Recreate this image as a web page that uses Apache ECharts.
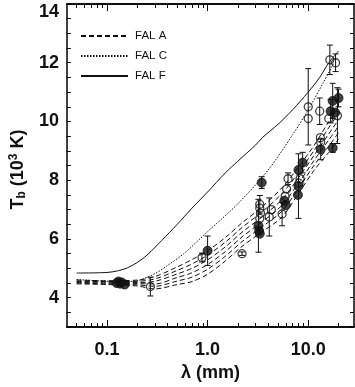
<!DOCTYPE html>
<html><head><meta charset="utf-8">
<script src="https://cdn.jsdelivr.net/npm/echarts@6/dist/echarts.min.js"></script>
<style>html,body{margin:0;padding:0;background:#fff}#c{width:355px;height:387px}</style>
</head><body><div id="c"></div>
<script>
// ---- tick labels ----
const xTickLabels = [0.1, 1, 10];
const xMinorTicks = [0.05,0.06,0.07,0.08,0.09,0.2,0.3,0.4,0.5,0.6,0.7,0.8,0.9,2,3,4,5,6,7,8,9,20];
const yTickLabels = [4, 6, 8, 10, 12, 14];
const yTicks = [3,3.5,4,4.5,5,5.5,6,6.5,7,7.5,8,8.5,9,9.5,10,10.5,11,11.5,12,12.5,13,13.5,14];

// ---- model curves (wavelength mm, Tb in 10^3 K) ----
const falF_lam = [0.05,0.1,0.13,0.16,0.2,0.25,0.35,0.5,0.7,1.0,1.5,2.0,3.0,3.5,5.0,7.0,10,13,16,20];
const falF     = [4.84,4.86,4.92,5.02,5.2,5.45,5.95,6.5,7.05,7.6,8.25,8.65,9.2,9.45,9.9,10.4,11.0,11.5,12.0,12.4];

const falC_lam = [0.05,0.1,0.15,0.2,0.3,0.4,0.58,1.0,2.0,4.0,7.0,10,14,18];
const falC     = [4.62,4.56,4.55,4.58,4.82,5.1,5.5,6.25,7.2,8.35,9.55,10.4,11.3,12.0];

const falA_lam = [0.05,0.1,0.2,0.3,0.5,0.7,1.0,1.5,2.2,3.5,5.5,8,11.5,16,20];
const falA1 = [4.47,4.45,4.40,4.30,4.45,4.55,4.80,5.25,5.75,6.25,6.75,7.55,8.35,8.95,9.40];
const falA2 = [4.50,4.47,4.44,4.39,4.57,4.70,4.97,5.41,5.91,6.42,6.95,7.72,8.52,9.16,9.62];
const falA3 = [4.52,4.50,4.48,4.47,4.69,4.85,5.13,5.57,6.07,6.59,7.15,7.90,8.69,9.37,9.84];
const falA4 = [4.55,4.53,4.52,4.56,4.81,5.00,5.29,5.73,6.23,6.76,7.35,8.08,8.86,9.58,10.06];
const falA5 = [4.57,4.55,4.56,4.64,4.93,5.15,5.45,5.89,6.39,6.93,7.55,8.26,9.03,9.79,10.28];
const falA6 = [4.60,4.58,4.60,4.72,5.05,5.30,5.60,6.05,6.55,7.10,7.75,8.45,9.20,10.00,10.50];

// ---- observations: open circles ----
const openLam = [0.27,0.88,2.2,3.3,3.3,3.35,3.3,4.1,4.3,5.5,5.9,6.1,6.3,8.3,8.1,10.0,10.0,13.0,13.2,13.3,16.4,18.7,19.5,16.0];
const openTb  = [4.38,5.37,5.5,7.18,7.05,6.88,6.7,6.75,7.0,6.85,7.45,7.7,8.05,8.05,7.9,10.5,10.1,10.35,9.45,9.3,12.1,12.0,10.2,10.1];
const openErr = [0.32,0.15,0.06,0.3,0,0,0,0.65,0,0.4,0,0,0.2,0,0,1.3,0,0.45,0,0,0.5,0.3,0.95,0];

// ---- observations: filled circles ----
const fillLam = [0.125,0.13,0.135,0.14,0.15,1.0,3.45,3.2,3.25,3.3,5.8,6.0,8.0,8.0,7.9,8.8,13.3,17.5,16.7,17.5,20.0,18.5];
const fillTb  = [4.5,4.55,4.48,4.52,4.45,5.6,7.92,6.45,6.28,6.18,7.3,7.15,7.8,8.35,7.5,8.6,9.05,9.1,10.35,10.7,10.8,10.3];
const fillErr = [0,0,0,0,0,0.5,0.2,0.9,0,0,0,0,1.1,0,0,0.35,0.35,0.15,0.4,0.6,0.3,0];

const FONT = "'Liberation Sans', Arial, sans-serif";
const INK = '#111';

function zip(a, b) { return a.map((v, i) => [v, b[i]]); }
function errData(lam, tb, err) {
  const out = [];
  lam.forEach((l, i) => { if (err[i] > 0) out.push([l, tb[i] - err[i], tb[i] + err[i]]); });
  return out;
}
function errSeries(data) {
  return {
    type: 'custom', silent: true, z: 3,
    data: data,
    encode: { x: 0, y: [1, 2] },
    renderItem: function (params, api) {
      const lam = api.value(0);
      const lo = api.coord([lam, api.value(1)]);
      const hi = api.coord([lam, api.value(2)]);
      const w = 3;
      const st = { stroke: INK, lineWidth: 1 };
      return { type: 'group', children: [
        { type: 'line', shape: { x1: lo[0], y1: lo[1], x2: hi[0], y2: hi[1] }, style: st },
        { type: 'line', shape: { x1: lo[0] - w, y1: lo[1], x2: lo[0] + w, y2: lo[1] }, style: st },
        { type: 'line', shape: { x1: hi[0] - w, y1: hi[1], x2: hi[0] + w, y2: hi[1] }, style: st }
      ]};
    }
  };
}
function lineSeries(name, lam, vals, type, width) {
  return {
    type: 'line', name: name, data: zip(lam, vals), symbol: 'none', smooth: 0.3,
    lineStyle: { color: INK, width: width || 1, type: type }, itemStyle: { color: INK },
    z: 2, silent: true
  };
}

const axisLineStyle = { color: '#000', width: 1.5 };
const xBase = { type: 'log', logBase: 10, min: 0.04, max: 28.5, gridIndex: 0, splitLine: { show: false }, axisLine: { onZero: false, lineStyle: axisLineStyle } };

const chart = echarts.init(document.getElementById('c'), null, { renderer: 'canvas' });
chart.setOption({
  animation: false,
  backgroundColor: '#fff',
  grid: { left: 61, right: 1, top: 4, bottom: 54 },
  legend: {
    data: ['FAL A', 'FAL C', 'FAL F'],
    orient: 'vertical', left: 75, top: 25,
    itemWidth: 47, itemHeight: 10, itemGap: 8,
    itemStyle: { opacity: 0 },
    textStyle: { fontFamily: FONT, fontSize: 11.5, color: INK, padding: [0, 0, 0, 2] },
    selectedMode: false
  },
  xAxis: [
    Object.assign({}, xBase, {
      position: 'bottom',
      axisTick: { inside: true, length: 7, customValues: xTickLabels, lineStyle: { color: '#000', width: 1 } },
      axisLabel: { customValues: xTickLabels, margin: 14, fontFamily: FONT, fontSize: 18, fontWeight: 'bold', color: INK,
        formatter: function (v) { return v < 0.5 ? '0.1' : Number(v).toFixed(1); } },
      name: 'λ (mm)', nameLocation: 'middle', nameGap: 33,
      nameTextStyle: { fontFamily: FONT, fontSize: 18, fontWeight: 'bold', color: INK }
    }),
    Object.assign({}, xBase, {
      position: 'bottom',
      axisTick: { inside: true, length: 4, customValues: xMinorTicks, lineStyle: { color: '#000', width: 1 } },
      axisLabel: { show: false }
    }),
    Object.assign({}, xBase, {
      position: 'top',
      axisTick: { inside: true, length: 7, customValues: xTickLabels, lineStyle: { color: '#000', width: 1 } },
      axisLabel: { show: false }
    }),
    Object.assign({}, xBase, {
      position: 'top',
      axisTick: { inside: true, length: 4, customValues: xMinorTicks, lineStyle: { color: '#000', width: 1 } },
      axisLabel: { show: false }
    })
  ],
  yAxis: [
    {
      type: 'value', min: 3, max: 14, interval: 1, position: 'left',
      splitLine: { show: false },
      axisLine: { show: true, onZero: false, lineStyle: axisLineStyle },
      axisTick: { show: true, inside: true, length: 4, customValues: yTicks, lineStyle: { color: '#000', width: 1 } },
      axisLabel: { customValues: yTickLabels, margin: 8, fontFamily: FONT, fontSize: 18, fontWeight: 'bold', color: INK,
        formatter: function (v) { return v === 14 ? '{t|14}' : String(v); },
        rich: { t: { fontFamily: FONT, fontSize: 18, fontWeight: 'bold', color: INK, padding: [16, 0, 0, 0] } } },
      name: 'T{sub|b} (10{sup|3} K)', nameLocation: 'middle', nameGap: 36, nameRotate: 90,
      nameTextStyle: {
        fontFamily: FONT, fontSize: 18, fontWeight: 'bold', color: INK, padding: [0, 8, 0, 0],
        rich: {
          sub: { fontFamily: FONT, fontSize: 12, fontWeight: 'bold', color: INK, padding: [8, 0, 0, 0] },
          sup: { fontFamily: FONT, fontSize: 12, fontWeight: 'bold', color: INK, padding: [0, 0, 8, 0] }
        }
      }
    },
    {
      type: 'value', min: 3, max: 14, interval: 1, position: 'right',
      splitLine: { show: false },
      axisLine: { show: true, onZero: false, lineStyle: axisLineStyle },
      axisTick: { show: true, inside: true, length: 4, customValues: yTicks, lineStyle: { color: '#000', width: 1 } },
      axisLabel: { show: false }
    }
  ],
  series: [
    lineSeries('FAL A', falA_lam, falA1, [5, 3]),
    lineSeries('FAL A', falA_lam, falA2, [5, 3]),
    lineSeries('FAL A', falA_lam, falA3, [5, 3]),
    lineSeries('FAL A', falA_lam, falA4, [5, 3]),
    lineSeries('FAL A', falA_lam, falA5, [5, 3]),
    lineSeries('FAL A', falA_lam, falA6, [5, 3]),
    lineSeries('FAL C', falC_lam, falC, [1.5, 1.5]),
    lineSeries('FAL F', falF_lam, falF, 'solid'),
    errSeries(errData(openLam, openTb, openErr)),
    errSeries(errData(fillLam, fillTb, fillErr)),
    {
      type: 'scatter', name: 'open', data: zip(openLam, openTb), symbol: 'circle', symbolSize: 8,
      itemStyle: { color: 'rgba(255,255,255,0)', borderColor: INK, borderWidth: 1.3 }, z: 4, silent: true
    },
    {
      type: 'scatter', name: 'filled', data: zip(fillLam, fillTb), symbol: 'circle', symbolSize: 9,
      itemStyle: { color: INK, borderColor: INK, borderWidth: 1 }, z: 5, silent: true
    }
  ]
});
</script>
</body></html>
